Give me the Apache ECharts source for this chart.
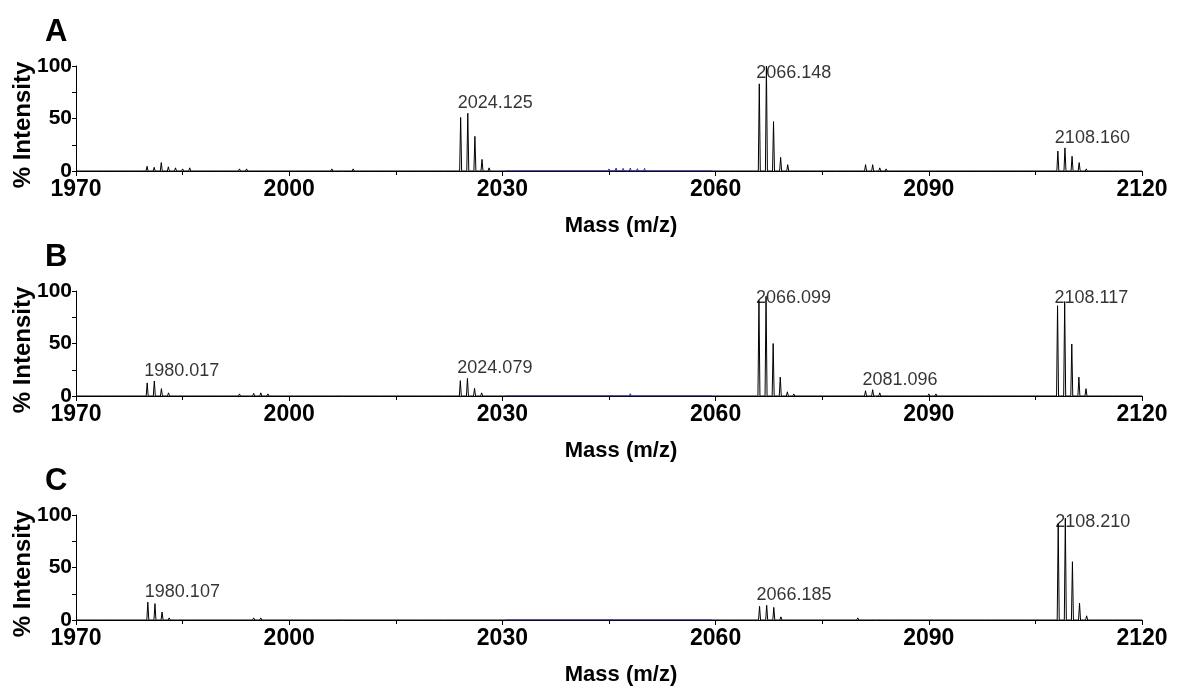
<!DOCTYPE html>
<html><head><meta charset="utf-8">
<script src="https://cdn.jsdelivr.net/npm/echarts@6/dist/echarts.min.js"></script>
<style>html,body{margin:0;padding:0;background:#fff}#c{width:1177px;height:688px}</style>
</head><body><div id="c"></div>
<script>
// ---- data ----
var xTicks = [1970, 2000, 2030, 2060, 2090, 2120];
var yTicks = [0, 50, 100];
var panelNames = ['A', 'B', 'C'];

// main isotope peaks [m/z, % intensity]
var peaksA = [
  [1980.0,4.5],[1981.0,3.5],[1982.0,8],[1983.0,4],[1984.0,3],[1985.0,2],[1986.0,3],
  [2024.125,51],[2025.13,55],[2026.13,33],[2027.13,11],[2028.13,3],
  [2066.148,83],[2067.15,100],[2068.15,47],[2069.15,13],[2070.15,6],
  [2081.1,6],[2082.1,6],[2083.1,3],
  [2108.160,19],[2109.16,22],[2110.16,14],[2111.16,8],[2112.16,2]
];
var peaksB = [
  [1980.017,12.5],[1981.02,14.3],[1982.02,7],[1983.02,3],
  [2024.079,14.6],[2025.08,16.8],[2026.08,7.3],[2027.08,3],
  [2066.099,91],[2067.10,95],[2068.10,50],[2069.10,18],[2070.10,4],
  [2081.096,5],[2082.10,6],[2083.10,3],
  [2108.117,86],[2109.12,90],[2110.12,49.5],[2111.12,18],[2112.12,7]
];
var peaksC = [
  [1980.107,17],[1981.11,15.6],[1982.11,7.6],[1983.11,2],
  [2066.185,13],[2067.19,14],[2068.19,12],[2069.19,3],
  [2108.210,92],[2109.21,97],[2110.21,55.5],[2111.21,16],[2112.21,4]
];

// baseline noise peaks (black)
var noiseA = [
  [1972,1],[1974,1],[1976,1.2],[1978,1.5],[1987,1.5],[1988,1.5],[1990,1.2],[1993,2],[1994,2],
  [1995,1.5],[1997,1.2],[2002,1.2],[2004,1.8],[2005,1.8],[2006,2],[2007,1.8],[2009,2],[2010,1.5],[2012,1.2],[2014,1.2],
  [2016,1.2],[2018,1.2],[2020,1.2],[2022,1.2],[2029,1.8],[2062,1.2],[2063,1.5],[2071,1.8],[2072,1.2],[2074,1.2],[2077,1.2],
  [2079,1.2],[2084,2],[2085,1.5],[2087,1.2],[2089,1.2],[2091,1.8],[2092,1.2],[2095,1.2],[2097,1],[2099,1.2],[2101,1],[2103,1.2],
  [2106,1.2],[2113,1.5],[2114,1.2],[2116,1],[2117,1]
];
var noiseB = [
  [1972,1],[1974,1],[1975,1],[1977,1.2],[1984,1.5],[1986,1.2],[1988,1],[1990,1.2],[1993,2],[1995,2.5],[1996,3],
  [1997,2],[1999,1.5],[2001,1],[2003,1.2],[2006,1.2],[2008,1],[2010,1.2],[2013,1],[2015,1.2],[2018,1],[2020,1.2],[2022,1],[2029,1.5],[2063,1.5],
  [2071,2],[2073,1],[2076,1],[2078,1],[2085,1.5],[2087,1.2],[2090,2],[2091,2],[2093,1.2],[2096,1],[2098,1.2],[2101,1],[2103,1.2],[2113,1.5],[2116,1.2]
];
var noiseC = [
  [1973,1],[1976,1],[1984,1.5],[1986,1.2],[1989,1],[1993,1.5],[1995,2],[1996,2],[2000,1],[2003,1.2],[2007,1],[2010,1.2],
  [2015,1],[2019,1],[2022,1.2],[2026,1],[2063,1.2],[2071,1.5],[2075,1],[2080,2],[2085,1.2],[2088,1],[2090,1.8],[2094,1.2],[2098,1.2],[2104,1.2],
  [2113,1.5],[2116,1.2]
];
// low-level blue trace region
var blueA = [
  [2031,1.5],[2032,1.2],[2034,1.2],[2036,1.2],[2038,1.2],[2040,1.2],[2042,1.2],[2044,1.2],[2045,2],
  [2046,2.8],[2047,2.5],[2048,2.8],[2049,2.2],[2050,2.5],[2051,1.8],[2052,1.5],[2054,1.2],[2056,1.2],
  [2058,1.2],[2059,1.5]
];
var blueB = [
  [2031,1.2],[2033,1.2],[2035,1.2],[2037,1.2],[2039,1.2],[2041,1.2],[2043,1.2],[2045,1.5],[2046,1.8],
  [2048,2.2],[2049,1.6],[2050,1.5],[2052,1.2],[2054,1.2],[2056,1.2],[2058,1.2]
];
var blueC = [
  [2032,1],[2036,1],[2040,1.2],[2044,1.2],[2047,1.8],[2050,1.2],[2054,1],[2058,1]
];
var blueRange = [2030.5, 2059.5];

// peak annotations
var labelsA = [[2024.125,'2024.125'],[2066.148,'2066.148'],[2108.160,'2108.160']];
var labelsB = [[1980.017,'1980.017'],[2024.079,'2024.079'],[2066.099,'2066.099'],[2081.096,'2081.096'],[2108.117,'2108.117']];
var labelsC = [[1980.107,'1980.107'],[2066.185,'2066.185'],[2108.210,'2108.210']];

// ---- build ----
var HALF = 0.14;
function trace(list, from, to) {
  var pts = list.slice().sort(function (a, b) { return a[0] - b[0]; });
  var out = [[from, 0]];
  pts.forEach(function (p) {
    out.push([p[0] - HALF, 0], [p[0], p[1]], [p[0] + HALF, 0]);
  });
  out.push([to, 0]);
  return out;
}
function labelPoints(labels, peaks) {
  return labels.map(function (l) {
    var mx = 0;
    peaks.forEach(function (p) { if (p[0] >= l[0] - 0.01 && p[0] < l[0] + 5) mx = Math.max(mx, p[1]); });
    return { value: [l[0], Math.min(mx, 84)], name: l[1] };
  });
}

var FONT = 'Liberation Sans, Arial, sans-serif';
var tops = [66, 291, 515];
var H = 105;
var panels = [
  { peaks: peaksA, noise: noiseA, blue: blueA, labels: labelsA },
  { peaks: peaksB, noise: noiseB, blue: blueB, labels: labelsB },
  { peaks: peaksC, noise: noiseC, blue: blueC, labels: labelsC }
];

var grids = [], xAxes = [], yAxes = [], series = [], graphics = [];
panels.forEach(function (p, i) {
  grids.push({ left: 76, right: 35, top: tops[i], height: H });
  xAxes.push({
    type: 'value', gridIndex: i, min: xTicks[0], max: xTicks[xTicks.length - 1], interval: 30,
    axisLine: { lineStyle: { color: '#000', width: 1 } },
    axisTick: { length: 5, lineStyle: { color: '#000' } },
    minorTick: { show: true, splitNumber: 2, length: 4, lineStyle: { color: '#000' } },
    splitLine: { show: false },
    axisLabel: { color: '#000', fontWeight: 'bold', fontSize: 23, fontFamily: FONT, margin: 7,
      formatter: function (v) { return String(v); } }
  });
  yAxes.push({
    type: 'value', gridIndex: i, min: yTicks[0], max: yTicks[yTicks.length - 1], interval: 50,
    axisLine: { show: true, lineStyle: { color: '#000', width: 1 } },
    axisTick: { show: true, length: 4, lineStyle: { color: '#000' } },
    minorTick: { show: true, splitNumber: 2, length: 4, lineStyle: { color: '#000' } },
    splitLine: { show: false },
    axisLabel: { color: '#000', fontWeight: 'bold', fontSize: 21, fontFamily: FONT, margin: 4 }
  });
  var allBlack = p.peaks.concat(p.noise);
  series.push({
    type: 'line', xAxisIndex: i, yAxisIndex: i, data: trace(allBlack, xTicks[0], xTicks[xTicks.length - 1]),
    showSymbol: false, symbol: 'none', lineStyle: { color: '#000', width: 1 }, z: 2, silent: true
  });
  series.push({
    type: 'line', xAxisIndex: i, yAxisIndex: i, data: trace(p.blue, blueRange[0], blueRange[1]),
    showSymbol: false, symbol: 'none', lineStyle: { color: '#2b2bb0', width: 1 }, z: 3, silent: true
  });
  series.push({
    type: 'scatter', xAxisIndex: i, yAxisIndex: i, data: labelPoints(p.labels, p.peaks),
    symbolSize: 0, z: 4, silent: true,
    label: {
      show: true, position: [-3, -19], formatter: '{b}', color: '#000',
      fontSize: 18, fontFamily: FONT, align: 'left', verticalAlign: 'top'
    }
  });
  graphics.push({
    type: 'text', x: 45, y: tops[i] - 49,
    style: { text: panelNames[i], fill: '#000', font: 'bold 31px ' + FONT, textAlign: 'left', textVerticalAlign: 'top' }
  });
  graphics.push({
    type: 'text', x: 23, y: tops[i] + 59, rotation: Math.PI / 2,
    style: { text: '% Intensity', fill: '#000', font: 'bold 24px ' + FONT, textAlign: 'center', textVerticalAlign: 'middle' }
  });
  graphics.push({
    type: 'text', x: 621, y: tops[i] + 160,
    style: { text: 'Mass (m/z)', fill: '#000', font: 'bold 22px ' + FONT, textAlign: 'center', textVerticalAlign: 'middle' }
  });
});

var chart = echarts.init(document.getElementById('c'), null, { renderer: 'canvas' });
chart.setOption({
  animation: false,
  backgroundColor: '#fff',
  grid: grids, xAxis: xAxes, yAxis: yAxes, series: series,
  graphic: graphics
});
</script></body></html>
